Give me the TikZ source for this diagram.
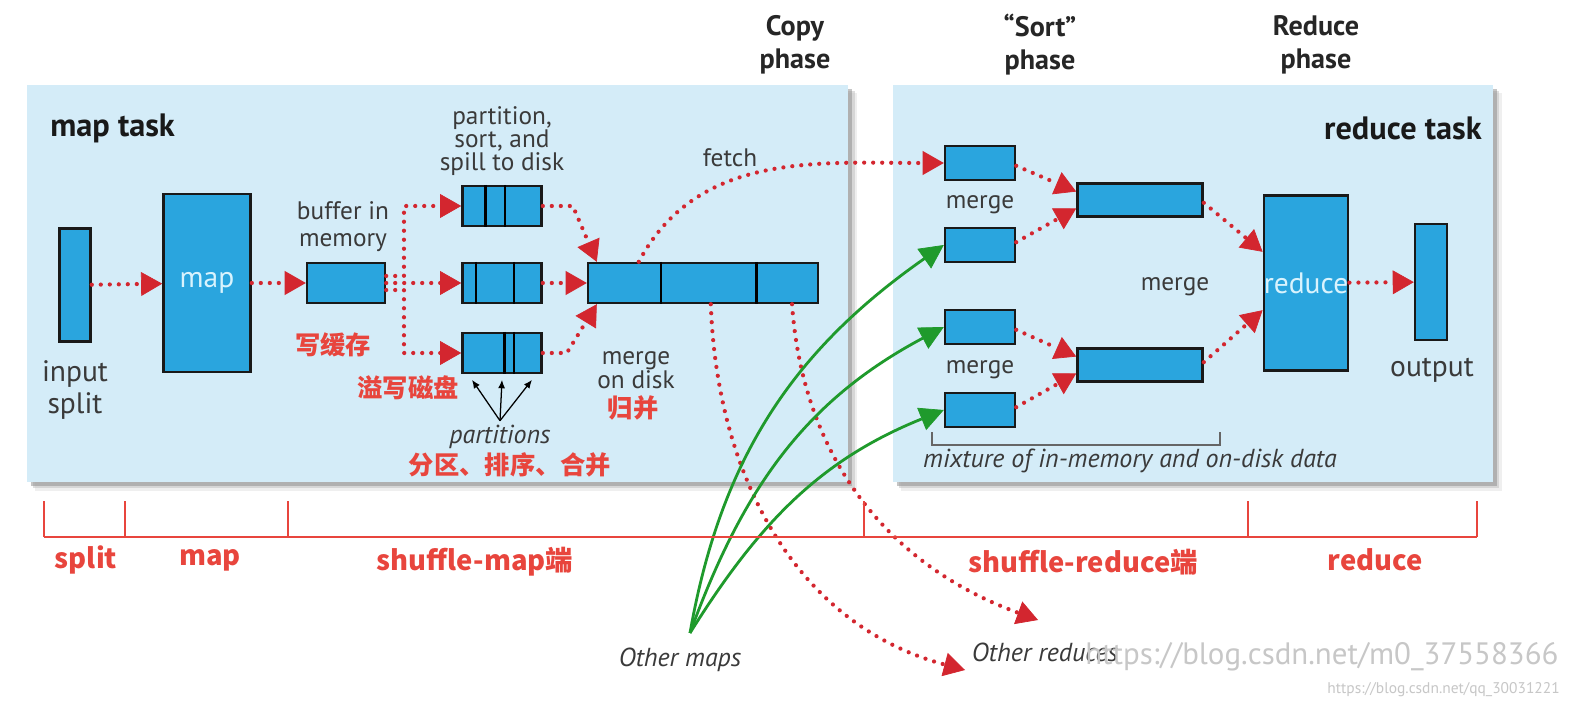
\documentclass[tikz,border=0pt]{standalone}
\usepackage{fontspec}
\setmainfont{PT Sans}
\newfontfamily\cjk{Noto Sans CJK SC}
\usepackage{xcolor}
\usepackage{tikz}
\usetikzlibrary{arrows.meta}
\usetikzlibrary{positioning}
\usetikzlibrary{calc}
\usetikzlibrary{shadows}
\definecolor{bleuciel}{HTML}{D4ECF8}
\definecolor{bleu}{HTML}{2AA5DE}
\definecolor{rougef}{HTML}{D3262F}
\definecolor{rougec}{HTML}{E8453D}
\definecolor{vert}{HTML}{1F9A2C}
\definecolor{encre}{HTML}{3A3A3A}
\tikzset{
    panneau/.style = {fill=bleuciel, inner sep=0pt,
        drop shadow={shadow xshift=6pt, shadow yshift=-6pt, fill=black!12},
        drop shadow={shadow xshift=4.5pt, shadow yshift=-4.5pt, fill=black!25},
        drop shadow={shadow xshift=3pt, shadow yshift=-3pt, fill=black!45}},
    boite/.style = {draw=black!90, line width=1.7pt, fill=bleu, inner sep=0pt},
    texte/.style = {text=encre, align=center, inner sep=0pt, font=\fontsize{18}{19.2}\selectfont},
    grand/.style = {font=\fontsize{21}{23}\selectfont},
    titre/.style = {text=black!85, align=center, inner sep=0pt, font=\bfseries\fontsize{20}{23.5}\selectfont},
    tache/.style = {text=black!90, inner sep=0pt, font=\bfseries\fontsize{23}{23}\selectfont},
    italique/.style = {text=encre, inner sep=0pt, font=\itshape\fontsize{18.5}{19}\selectfont},
    chinois/.style = {text=rougec, inner sep=0pt, font=\cjk\bfseries\fontsize{18}{18}\selectfont},
    echelon/.style = {text=rougec, inner sep=0pt, font=\cjk\bfseries\fontsize{19.5}{19.5}\selectfont},
    pointille/.style = {draw=rougef, line width=3pt, line cap=round, dash pattern=on 0pt off 6.4pt,
        -{Triangle[length=15pt, width=17pt, line width=0.5pt]}},
    fleche/.style = {draw=vert, line width=2pt, -{Triangle[length=17pt, width=17pt, line width=0.5pt]}},
    noire/.style = {draw=black, line width=0.9pt, -{Latex[length=6pt, width=5pt]}},
    echelle/.style = {draw=rougec, line width=2pt},
    >=Latex
}
\begin{document}
\begin{tikzpicture}[x=0.025cm, y=0.025cm]
    \fill[white] (0,0) rectangle (1584,-714);
    \useasboundingbox (0,0) rectangle (1584,-714);
    % the two tasks
    \node (maptask) [panneau, minimum width=20.53cm, minimum height=9.93cm] at (437.5,-283.5) {};
    \node (redtask) [panneau, minimum width=15cm, minimum height=9.93cm] at (1193,-283.5) {};
    \node (titremap) [tache, anchor=west] at (50,-128) {map task};
    \node (titrered) [tache, anchor=east] at (1482,-128) {reduce task};
    \node (copie) [titre] at (795,-45) {Copy\\phase};
    \node (tri) [titre] at (1040,-45) {“Sort”\\phase};
    \node (reduction) [titre] at (1316,-45) {Reduce\\phase};
    % map side
    \node (split) [boite, minimum width=0.78cm, minimum height=2.83cm] at (75,-285) {};
    \node (splitlbl) [texte, grand] at (75,-390) {input\\split};
    \node (map) [boite, minimum width=2.18cm, minimum height=4.45cm, text=white!85!cyan,
        font=\fontsize{21}{21}\selectfont] at (207,-283) {map};
    \node (buf) [boite, minimum width=1.95cm, minimum height=1cm] at (346,-283) {};
    \node (buflbl) [texte] at (343,-227) {buffer in\\memory};
    \node (ecrire) [chinois] at (333,-345) {写缓存};
    \node (p1) [boite, minimum width=1.98cm, minimum height=1cm] at (502,-206) {};
    \node (p2) [boite, minimum width=1.98cm, minimum height=1cm] at (502,-283) {};
    \node (p3) [boite, minimum width=1.98cm, minimum height=1cm] at (502,-353) {};
    \node (spill) [texte, font=\fontsize{18}{16.4}\selectfont] at (502,-141) {partition,\\sort, and\\spill to disk};
    \node (deborde) [chinois] at (408,-388) {溢写磁盘};
    \node (partitions) [italique] at (500,-437) {partitions};
    \node (etapes) [chinois] at (510,-465) {分区、排序、合并};
    \node (disque) [boite, minimum width=5.75cm, minimum height=1cm] at (703,-283) {};
    \node (mergedisk) [texte, font=\fontsize{18}{17}\selectfont] at (636,-370) {merge\\on disk};
    \node (fusion) [chinois] at (633,-408) {归并};
    \node (fetch) [texte] at (730,-158) {fetch};
    \foreach \b/\f in {p1/0.30, p1/0.54, p2/0.18, p2/0.65, p3/0.53, p3/0.65, disque/0.32, disque/0.73}
        \draw[line width=1.7pt] ($(\b.north west)!\f!(\b.north east)$) -- ($(\b.south west)!\f!(\b.south east)$);
    % reduce side
    \foreach \n/\y in {1/163, 2/245, 3/327, 4/410}
        \node (r\n) [boite, minimum width=1.75cm, minimum height=0.85cm] at (980,-\y) {};
    \node (m1) [boite, minimum width=3.13cm, minimum height=0.83cm] at (1140,-200) {};
    \node (m2) [boite, minimum width=3.13cm, minimum height=0.83cm] at (1140,-365) {};
    \node (merge1) [texte] at (980,-205) {merge};
    \node (merge2) [texte] at (980,-370) {merge};
    \node (merge3) [texte] at (1175,-287) {merge};
    \node (red) [boite, minimum width=2.08cm, minimum height=4.38cm, text=white!85!cyan,
        font=\fontsize{21}{21}\selectfont] at (1306,-283) {reduce};
    \node (out) [boite, minimum width=0.8cm, minimum height=2.9cm] at (1431,-282) {};
    \node (outlbl) [texte, grand] at (1432,-370) {output};
    \coordinate (ga) at (932,-432);
    \coordinate (dr) at (1220,-432);
    \draw[black!60, line width=1pt] (ga) -- ++(0,-0.32cm) -| (dr);
    \node (mixlbl) [italique] at (1130,-461) {mixture of in-memory and on-disk data};
    % arrows inside the map task
    \draw[pointille] (split) -- (map);
    \draw[pointille] (map) -- (buf);
    \draw[pointille] ([yshift=5pt]buf.east) -| ([xshift=-1.43cm]p1.west) -- (p1.west);
    \draw[pointille] (buf) -- (p2);
    \draw[pointille] ([yshift=-5pt]buf.east) -| ([xshift=-1.43cm]p3.west) -- (p3.west);
    \draw[pointille] (p1.east) -- ++(0.75cm,0) -- ([xshift=0.25cm]disque.north west);
    \draw[pointille] (p2) -- (disque);
    \draw[pointille] (p3.east) -- ++(0.6cm,0) -- ([xshift=0.25cm]disque.south west);
    \foreach \dx in {-0.75cm, 0cm, 0.75cm}
        \draw[noire] ([yshift=3pt]partitions.north) -- ([xshift=\dx, yshift=-4pt]p3.south);
    % copy phase
    \draw[pointille] ([xshift=1.3cm]disque.north west) to[out=62, in=180] (r1.west);
    \coordinate (autre1) at (965,-670);
    \coordinate (autre2) at (1038,-620);
    \draw[pointille] ([xshift=3.1cm]disque.south west) to[out=-88, in=165] (autre1);
    \draw[pointille] ([xshift=5.13cm]disque.south west) to[out=-86, in=160] (autre2);
    \node (autresr) [italique] at (1045,-652) {Other reduces};
    \coordinate (source) at (690,-633);
    \node (autresm) [italique] at (680,-660) {Other maps};
    \foreach \r/\o/\i in {r2/80/215, r3/70/208, r4/58/202}
        \draw[fleche] (source) to[out=\o, in=\i] (\r.west);
    % arrows inside the reduce task
    \draw[pointille] ([yshift=-2pt]r1.east) -- ([yshift=6pt]m1.west);
    \draw[pointille] ([yshift=2pt]r2.east) -- ([yshift=-6pt]m1.west);
    \draw[pointille] ([yshift=-2pt]r3.east) -- ([yshift=6pt]m2.west);
    \draw[pointille] ([yshift=2pt]r4.east) -- ([yshift=-6pt]m2.west);
    \draw[pointille] ([yshift=-2pt]m1.east) -- ([yshift=0.78cm]red.west);
    \draw[pointille] ([yshift=2pt]m2.east) -- ([yshift=-0.68cm]red.west);
    \draw[pointille] (red) -- (out);
    % the stages below
    \foreach \n/\x in {t0/44, t1/125, t2/288, t3/864, t4/1248, t5/1477}
        \coordinate (\n) at (\x,-537);
    \draw[echelle] (t0) -- (t5);
    \foreach \n in {t0, t1, t2, t3, t4, t5}
        \draw[echelle] (\n) -- ++(0,0.9cm);
    \node (lsplit) [echelon] at (86,-560) {split};
    \node (lmap) [echelon] at (210,-560) {map};
    \node (lsmap) [echelon] at (475,-562) {shuffle-map端};
    \node (lsred) [echelon] at (1083,-562) {shuffle-reduce端};
    \node (lred) [echelon] at (1375,-560) {reduce};
    % watermarks
    \node (filigrane) [text=black!22, inner sep=0pt, anchor=west, font=\fontsize{22}{22}\selectfont] at (1085,-657) {https://blog.csdn.net/m0\_37558366};
    \node (adresse) [text=black!22, inner sep=0pt, anchor=east, font=\fontsize{11}{11}\selectfont] at (1560,-690) {https://blog.csdn.net/qq\_30031221};
\end{tikzpicture}
\end{document}
